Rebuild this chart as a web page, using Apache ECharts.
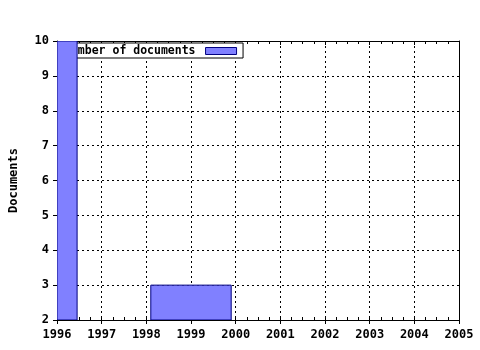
<!DOCTYPE html>
<html>
<head>
<meta charset="utf-8">
<script src="https://cdn.jsdelivr.net/npm/echarts@6/dist/echarts.min.js"></script>
<style>
  html, body { margin: 0; padding: 0; background: #fff; }
</style>
</head>
<body>
<div id="main" style="width: 480px; height: 350px"></div>
<script>
// bars: start year, end year, documents
var barStart = [1996, 1998.1];
var barEnd = [1996.45, 1999.9];
var docCount = [10, 3];
var seriesName = "Number of documents";
var xMin = 1996, xMax = 2005;
var yMin = 2, yMax = 10;

var font = "DejaVu Sans Mono";
var barData = barStart.map(function (s, i) {
  return [s, barEnd[i], docCount[i]];
});

var myChart = echarts.init(document.getElementById("main"));
var dotted = { color: "#000", width: 1, type: [2, 3] };

var option = {
  animation: false,
  backgroundColor: "#fff",
  grid: { left: 57, right: 21, top: 41, bottom: 30, containLabel: false, outerBoundsMode: "none" },
  legend: {
    z: 3,
    left: 60,
    top: 43,
    align: "right",
    icon: "rect",
    itemWidth: 31,
    itemHeight: 7,
    padding: [2, 6, 1, 4],
    backgroundColor: "#fff",
    borderColor: "#000",
    borderWidth: 1,
    borderRadius: 0,
    textStyle: {
      fontFamily: font, fontWeight: "bold", fontSize: 11.5, color: "#000",
      padding: [0, 5, 0, 0]
    },
    data: [{ name: seriesName, itemStyle: { color: "#8080ff", borderColor: "#000080", borderWidth: 1 } }]
  },
  xAxis: [
    {
      type: "value", min: xMin, max: xMax, interval: 1, position: "bottom",
      axisLine: { show: true, onZero: false, lineStyle: { color: "#000", width: 1 } },
      axisTick: { show: true, length: 4, lineStyle: { color: "#000" } },
      axisLabel: {
        margin: 9, color: "#000", fontFamily: font, fontWeight: "bold", fontSize: 12,
        formatter: function (v) { return String(v); }
      },
      splitLine: { show: true, lineStyle: dotted }
    },
    {
      type: "value", min: xMin, max: xMax, interval: 1, position: "bottom",
      axisLine: { show: false, onZero: false },
      axisTick: { show: true, inside: true, length: 4, lineStyle: { color: "#000" } },
      minorTick: { show: true, splitNumber: 4, length: 3, lineStyle: { color: "#000" } },
      axisLabel: { show: false },
      splitLine: { show: false }
    },
    {
      type: "value", min: xMin, max: xMax, interval: 1, position: "top",
      axisLine: { show: true, onZero: false, lineStyle: { color: "#000", width: 1 } },
      axisTick: { show: true, inside: true, length: 4, lineStyle: { color: "#000" } },
      minorTick: { show: true, splitNumber: 4, length: 3, lineStyle: { color: "#000" } },
      axisLabel: { show: false },
      splitLine: { show: false }
    }
  ],
  yAxis: [
    {
      type: "value", min: yMin, max: yMax, interval: 1, position: "left",
      name: "Documents",
      nameLocation: "middle",
      nameGap: 37,
      nameRotate: 90,
      nameTextStyle: { fontFamily: font, fontWeight: "bold", fontSize: 12, color: "#000" },
      axisLine: { show: true, onZero: false, lineStyle: { color: "#000", width: 1 } },
      axisTick: { show: true, length: 4, lineStyle: { color: "#000" } },
      axisLabel: { margin: 8, color: "#000", fontFamily: font, fontWeight: "bold", fontSize: 12 },
      splitLine: { show: true, lineStyle: dotted }
    },
    {
      type: "value", min: yMin, max: yMax, interval: 1, position: "right",
      axisLine: { show: true, onZero: false, lineStyle: { color: "#000", width: 1 } },
      axisTick: { show: false },
      axisLabel: { show: false },
      splitLine: { show: false }
    }
  ],
  series: [
    {
      name: seriesName,
      type: "custom",
      z: 5,
      clip: true,
      xAxisIndex: 0,
      yAxisIndex: 0,
      itemStyle: { color: "#8080ff", borderColor: "#000080", borderWidth: 1 },
      encode: { x: [0, 1], y: 2 },
      renderItem: function (params, api) {
        var p0 = api.coord([api.value(0), yMin]);
        var p1 = api.coord([api.value(1), api.value(2)]);
        return {
          type: "rect",
          shape: { x: p0[0], y: p1[1], width: p1[0] - p0[0], height: p0[1] - p1[1] },
          style: { fill: "#8080ff", stroke: "#000080", lineWidth: 1 }
        };
      },
      data: barData
    }
  ]
};

myChart.setOption(option);
</script>
</body>
</html>
